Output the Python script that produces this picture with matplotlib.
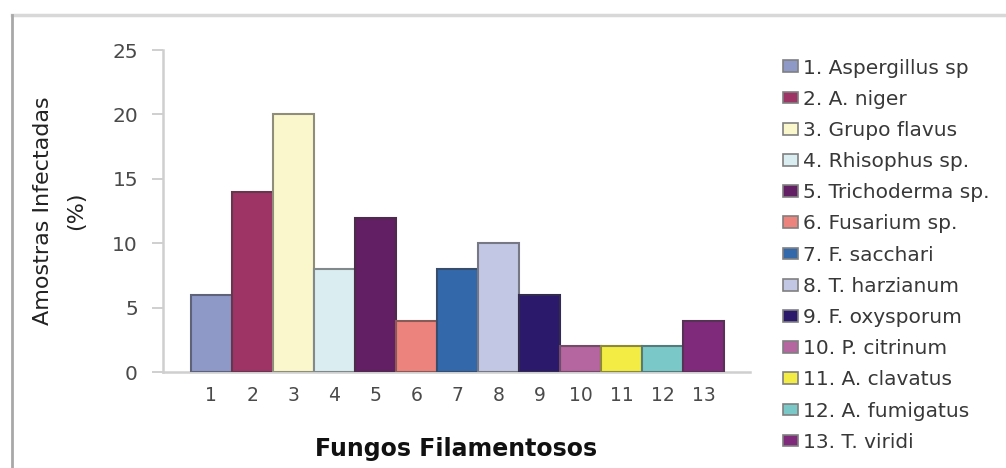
import matplotlib.pyplot as plt
import matplotlib.colors as mcolors
from matplotlib.lines import Line2D

# data
categories = [str(i) for i in range(1, 14)]
values = [6, 14, 20, 8, 12, 4, 8, 10, 6, 2, 2, 2, 4]
names = ['1. Aspergillus sp', '2. A. niger', '3. Grupo flavus', '4. Rhisophus sp.',
         '5. Trichoderma sp.', '6. Fusarium sp.', '7. F. sacchari', '8. T. harzianum',
         '9. F. oxysporum', '10. P. citrinum', '11. A. clavatus', '12. A. fumigatus',
         '13. T. viridi']
colors = ['#8F99C8', '#9E3366', '#FAF7CC', '#DAEDF0', '#631F63', '#EC837D', '#3369AA',
          '#C2C7E3', '#2B1A6B', '#B5659F', '#F2EC44', '#7BC8C8', '#7F2A7A']

plt.rcParams['font.family'] = ['DejaVu Sans']


def darker(c, f=0.45):
    r, g, b = mcolors.to_rgb(c)
    return (r * f + 0.12, g * f + 0.12, b * f + 0.12)


fig = plt.figure(figsize=(10.06, 4.68), dpi=100)
ax = fig.add_axes([0.162, 0.205, 0.5835, 0.688])

x = list(range(1, len(values) + 1))
bars = ax.bar(x, values, width=1.0, color=colors,
              edgecolor=[darker(c) for c in colors], linewidth=1.5, zorder=3)

ax.set_xlim(-0.18, 14.13)
ax.set_ylim(0, 25)
ax.set_yticks([0, 5, 10, 15, 20, 25])
ax.set_xticks(x)
ax.set_xticklabels(categories)

for s in ['top', 'right']:
    ax.spines[s].set_visible(False)
for s in ['left', 'bottom']:
    ax.spines[s].set_color('#cfcfcf')
    ax.spines[s].set_linewidth(1.8)

ax.tick_params(axis='y', length=8, width=1.4, color='#cfcfcf', labelsize=14.5,
               labelcolor='#4a4a4a', pad=10)
ax.tick_params(axis='x', length=0, labelsize=13.5, labelcolor='#4a4a4a', pad=10)

ax.set_xlabel('Fungos Filamentosos', fontsize=17, fontweight='bold', color='#111111',
              labelpad=23)
ax.set_ylabel('Amostras Infectadas\n(%)', fontsize=16, color='#222222',
              labelpad=19, linespacing=1.8)

leg = fig.legend(bars.patches, names, loc='upper left', bbox_to_anchor=(0.778, 0.875),
                 frameon=False, fontsize=14.5, handlelength=0.75, handleheight=0.52,
                 handletextpad=0.28, labelspacing=0.605, borderaxespad=0, borderpad=0)
for t in leg.get_texts():
    t.set_color('#383838')
for h in leg.legend_handles:
    h.set_edgecolor('#808080')
    h.set_linewidth(1.2)

# outer frame of the original chart area
fig.add_artist(Line2D([0.012, 1.0], [0.968, 0.968], color='#d8d8d8', lw=2.5,
                      transform=fig.transFigure))
fig.add_artist(Line2D([0.012, 0.012], [0.0, 0.968], color='#a8a8a8', lw=2.0,
                      transform=fig.transFigure))

fig.savefig('out.png', dpi=100)
